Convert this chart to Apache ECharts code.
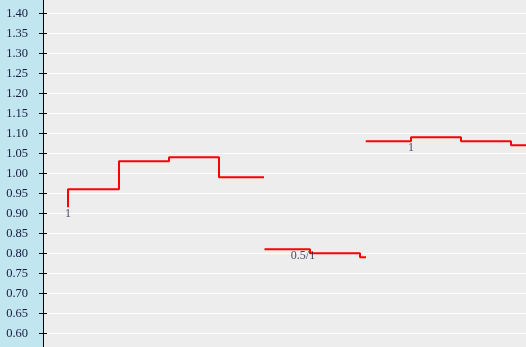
<!DOCTYPE html>
<html><head><meta charset="utf-8">
<script src="https://cdn.jsdelivr.net/npm/echarts@6/dist/echarts.min.js"></script>
<style>html,body{margin:0;padding:0;background:#c2e6f0}#c{width:526px;height:347px}</style>
</head><body><div id="c"></div>
<script>
// x values: time units (5 px per unit), y values: odds
const seg1X = [5, 15.2, 25.2, 35.2, 44.2];
const seg1Y = [0.915, 0.96, 1.03, 1.04, 0.99];
const seg2X = [44.4, 53.4, 63.4, 64.6];
const seg2Y = [0.81, 0.81, 0.80, 0.79];
const seg3X = [64.6, 73.6, 83.6, 93.6, 100];
const seg3Y = [1.08, 1.08, 1.09, 1.08, 1.07];
const labelX = [5, 52, 73.6];
const labelY = [0.915, 0.81, 1.08];
const labelText = ['1', '0.5/1', '1'];
const yTickLabels = ['0.50','0.55','0.60','0.65','0.70','0.75','0.80','0.85','0.90','0.95','1.00','1.05','1.10','1.15','1.20','1.25','1.30','1.35','1.40','1.45'];

const zip = (xs, ys) => xs.map((x, i) => [x, ys[i]]);
const data = [];
zip(seg1X, seg1Y).forEach(p => data.push(p));
data.push([44.3, null]);
zip(seg2X, seg2Y).forEach(p => data.push(p));
data.push([64.55, null]);
zip(seg3X, seg3Y).forEach(p => data.push(p));

const font = '"Liberation Serif", "Times New Roman", serif';
const chart = echarts.init(document.getElementById('c'));
const yBase = {
  type: 'value', min: 0.50, max: 1.45, interval: 0.05, position: 'left'
};
chart.setOption({
  animation: false,
  backgroundColor: '#c2e6f0',
  grid: { left: 43, right: 0, top: -6.7, height: 380, show: true, backgroundColor: '#ededed', borderWidth: 0,
          containLabel: false, outerBoundsMode: 'none' },
  xAxis: { type: 'value', min: 0, max: 96.6, show: false, splitLine: { show: false } },
  yAxis: [
    Object.assign({}, yBase, {
      axisLine: { show: true, lineStyle: { color: '#000', width: 1 } },
      axisTick: { show: true, length: 4, lineStyle: { color: '#000' } },
      splitLine: { show: true, lineStyle: { color: '#ffffff', width: 1 } },
      axisLabel: {
        margin: 15, color: '#1a1a40', fontFamily: font, fontSize: 12.5,
        padding: [0, 0, 8, 0],
        formatter: v => yTickLabels[Math.round((v - 0.5) / 0.05)]
      }
    }),
    Object.assign({}, yBase, {
      axisLine: { show: false },
      axisTick: { show: true, inside: true, length: 4, lineStyle: { color: '#000' } },
      splitLine: { show: false },
      axisLabel: { show: false }
    })
  ],
  series: [
    {
      type: 'line', step: 'start', data: data, connectNulls: false,
      showSymbol: false, symbol: 'none',
      lineStyle: { color: '#ff0000', width: 2 }, z: 3
    },
    {
      type: 'scatter', symbolSize: 0, z: 4,
      data: labelX.map((x, i) => ({ value: [x, labelY[i]], label: { formatter: labelText[i] } })),
      label: { show: true, position: 'bottom', distance: 1, color: '#1a1a40', fontFamily: font, fontSize: 12 }
    }
  ]
});
</script></body></html>
